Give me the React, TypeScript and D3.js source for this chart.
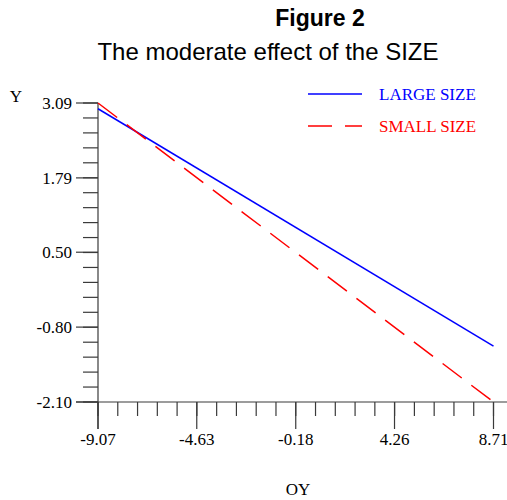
import React, { useRef, useEffect } from 'react';
import * as d3 from 'd3';

// data
const xTicks = [-9.07, -4.63, -0.18, 4.26, 8.71];
const yTicks = [3.09, 1.79, 0.5, -0.8, -2.1];
const xEnds = [-9.07, 8.71];
const largeSize = [2.99, -1.13];
const smallSize = [3.09, -2.1];
const seriesNames = ['LARGE SIZE', 'SMALL SIZE'];
const seriesColors = ['#0000ff', '#ff0000'];

export default function App() {
  const svgRef = useRef<SVGSVGElement>(null);
  const width = 507;
  const height = 500;

  useEffect(() => {
    const svg = d3.select(svgRef.current);
    svg.selectAll('*').remove();

    const x = d3.scaleLinear().domain([xTicks[0], xTicks[4]]).range([98, 493.5]);
    const y = d3.scaleLinear().domain([yTicks[4], yTicks[0]]).range([402, 103]);
    const axisColor = '#3a3a3a';
    const serif = '"Liberation Serif", "Times New Roman", serif';

    // titles
    svg.append('text')
      .attr('x', 320).attr('y', 26)
      .attr('text-anchor', 'middle')
      .style('font-family', '"Liberation Sans", Arial, sans-serif')
      .style('font-weight', 'bold')
      .style('font-size', '23px')
      .text('Figure 2');
    svg.append('text')
      .attr('x', 268).attr('y', 60)
      .attr('text-anchor', 'middle')
      .style('font-family', '"Liberation Sans", Arial, sans-serif')
      .style('font-size', '24px')
      .text('The moderate effect of the SIZE');

    const g = svg.append('g');

    // minor ticks (5 per major interval)
    const xMinor = d3.range(21).map(i => x.domain()[0] + (i * (x.domain()[1] - x.domain()[0])) / 20);
    const yMinor = d3.range(21).map(i => y.domain()[0] + (i * (y.domain()[1] - y.domain()[0])) / 20);

    g.selectAll('.xminor').data(xMinor).enter().append('line')
      .attr('x1', d => x(d)).attr('x2', d => x(d))
      .attr('y1', y.range()[0]).attr('y2', y.range()[0] + 14)
      .attr('stroke', axisColor).attr('stroke-width', 1.2);
    g.selectAll('.xmajor').data(xTicks).enter().append('line')
      .attr('x1', d => x(d)).attr('x2', d => x(d))
      .attr('y1', y.range()[0]).attr('y2', y.range()[0] + 27)
      .attr('stroke', axisColor).attr('stroke-width', 1.2);
    g.selectAll('.yminor').data(yMinor).enter().append('line')
      .attr('x1', x.range()[0] - 15).attr('x2', x.range()[0])
      .attr('y1', d => y(d)).attr('y2', d => y(d))
      .attr('stroke', axisColor).attr('stroke-width', 1.2);
    g.selectAll('.ymajor').data(yTicks).enter().append('line')
      .attr('x1', x.range()[0] - 22).attr('x2', x.range()[0])
      .attr('y1', d => y(d)).attr('y2', d => y(d))
      .attr('stroke', axisColor).attr('stroke-width', 1.2);

    // axis lines
    g.append('line')
      .attr('x1', x.range()[0]).attr('x2', x.range()[0])
      .attr('y1', y.range()[1]).attr('y2', y.range()[0] + 27)
      .attr('stroke', axisColor).attr('stroke-width', 1.2);
    g.append('line')
      .attr('x1', x.range()[0] - 22).attr('x2', width)
      .attr('y1', y.range()[0]).attr('y2', y.range()[0])
      .attr('stroke', axisColor).attr('stroke-width', 1.2);

    // tick labels
    g.selectAll('.xlab').data(xTicks).enter().append('text')
      .attr('x', d => x(d)).attr('y', 445)
      .attr('text-anchor', 'middle')
      .style('font-family', serif).style('font-size', '17px')
      .text(d => d.toFixed(2));
    g.selectAll('.ylab').data(yTicks).enter().append('text')
      .attr('x', 72).attr('y', d => y(d)).attr('dy', '0.33em')
      .attr('text-anchor', 'end')
      .style('font-family', serif).style('font-size', '17px')
      .text(d => d.toFixed(2));

    // axis titles
    svg.append('text')
      .attr('x', 16).attr('y', 102).attr('text-anchor', 'middle')
      .style('font-family', serif).style('font-size', '17px')
      .text('Y');
    svg.append('text')
      .attr('x', 298).attr('y', 495).attr('text-anchor', 'middle')
      .style('font-family', serif).style('font-size', '17px')
      .text('OY');

    // lines
    const line = d3.line<number>().x((_, i) => x(xEnds[i])).y(d => y(d));
    [largeSize, smallSize].forEach((vals, i) => {
      svg.append('path')
        .attr('d', line(vals))
        .attr('fill', 'none')
        .attr('stroke', seriesColors[i])
        .attr('stroke-width', 1.5)
        .attr('stroke-dasharray', i === 1 ? '24,12' : null);
    });

    // legend
    seriesNames.forEach((name, i) => {
      const ly = 94 + i * 32;
      svg.append('line')
        .attr('x1', 308).attr('x2', 362)
        .attr('y1', ly).attr('y2', ly)
        .attr('stroke', seriesColors[i])
        .attr('stroke-width', 1.5)
        .attr('stroke-dasharray', i === 1 ? '24,13' : null);
      svg.append('text')
        .attr('x', 379).attr('y', ly).attr('dy', '0.33em')
        .attr('fill', seriesColors[i])
        .style('font-family', serif).style('font-size', '17px')
        .text(name);
    });
  }, []);

  return (
    <svg
      ref={svgRef}
      width={width}
      height={height}
      style={{ position: 'absolute', left: 0, top: 0, background: '#fff' }}
    />
  );
}
